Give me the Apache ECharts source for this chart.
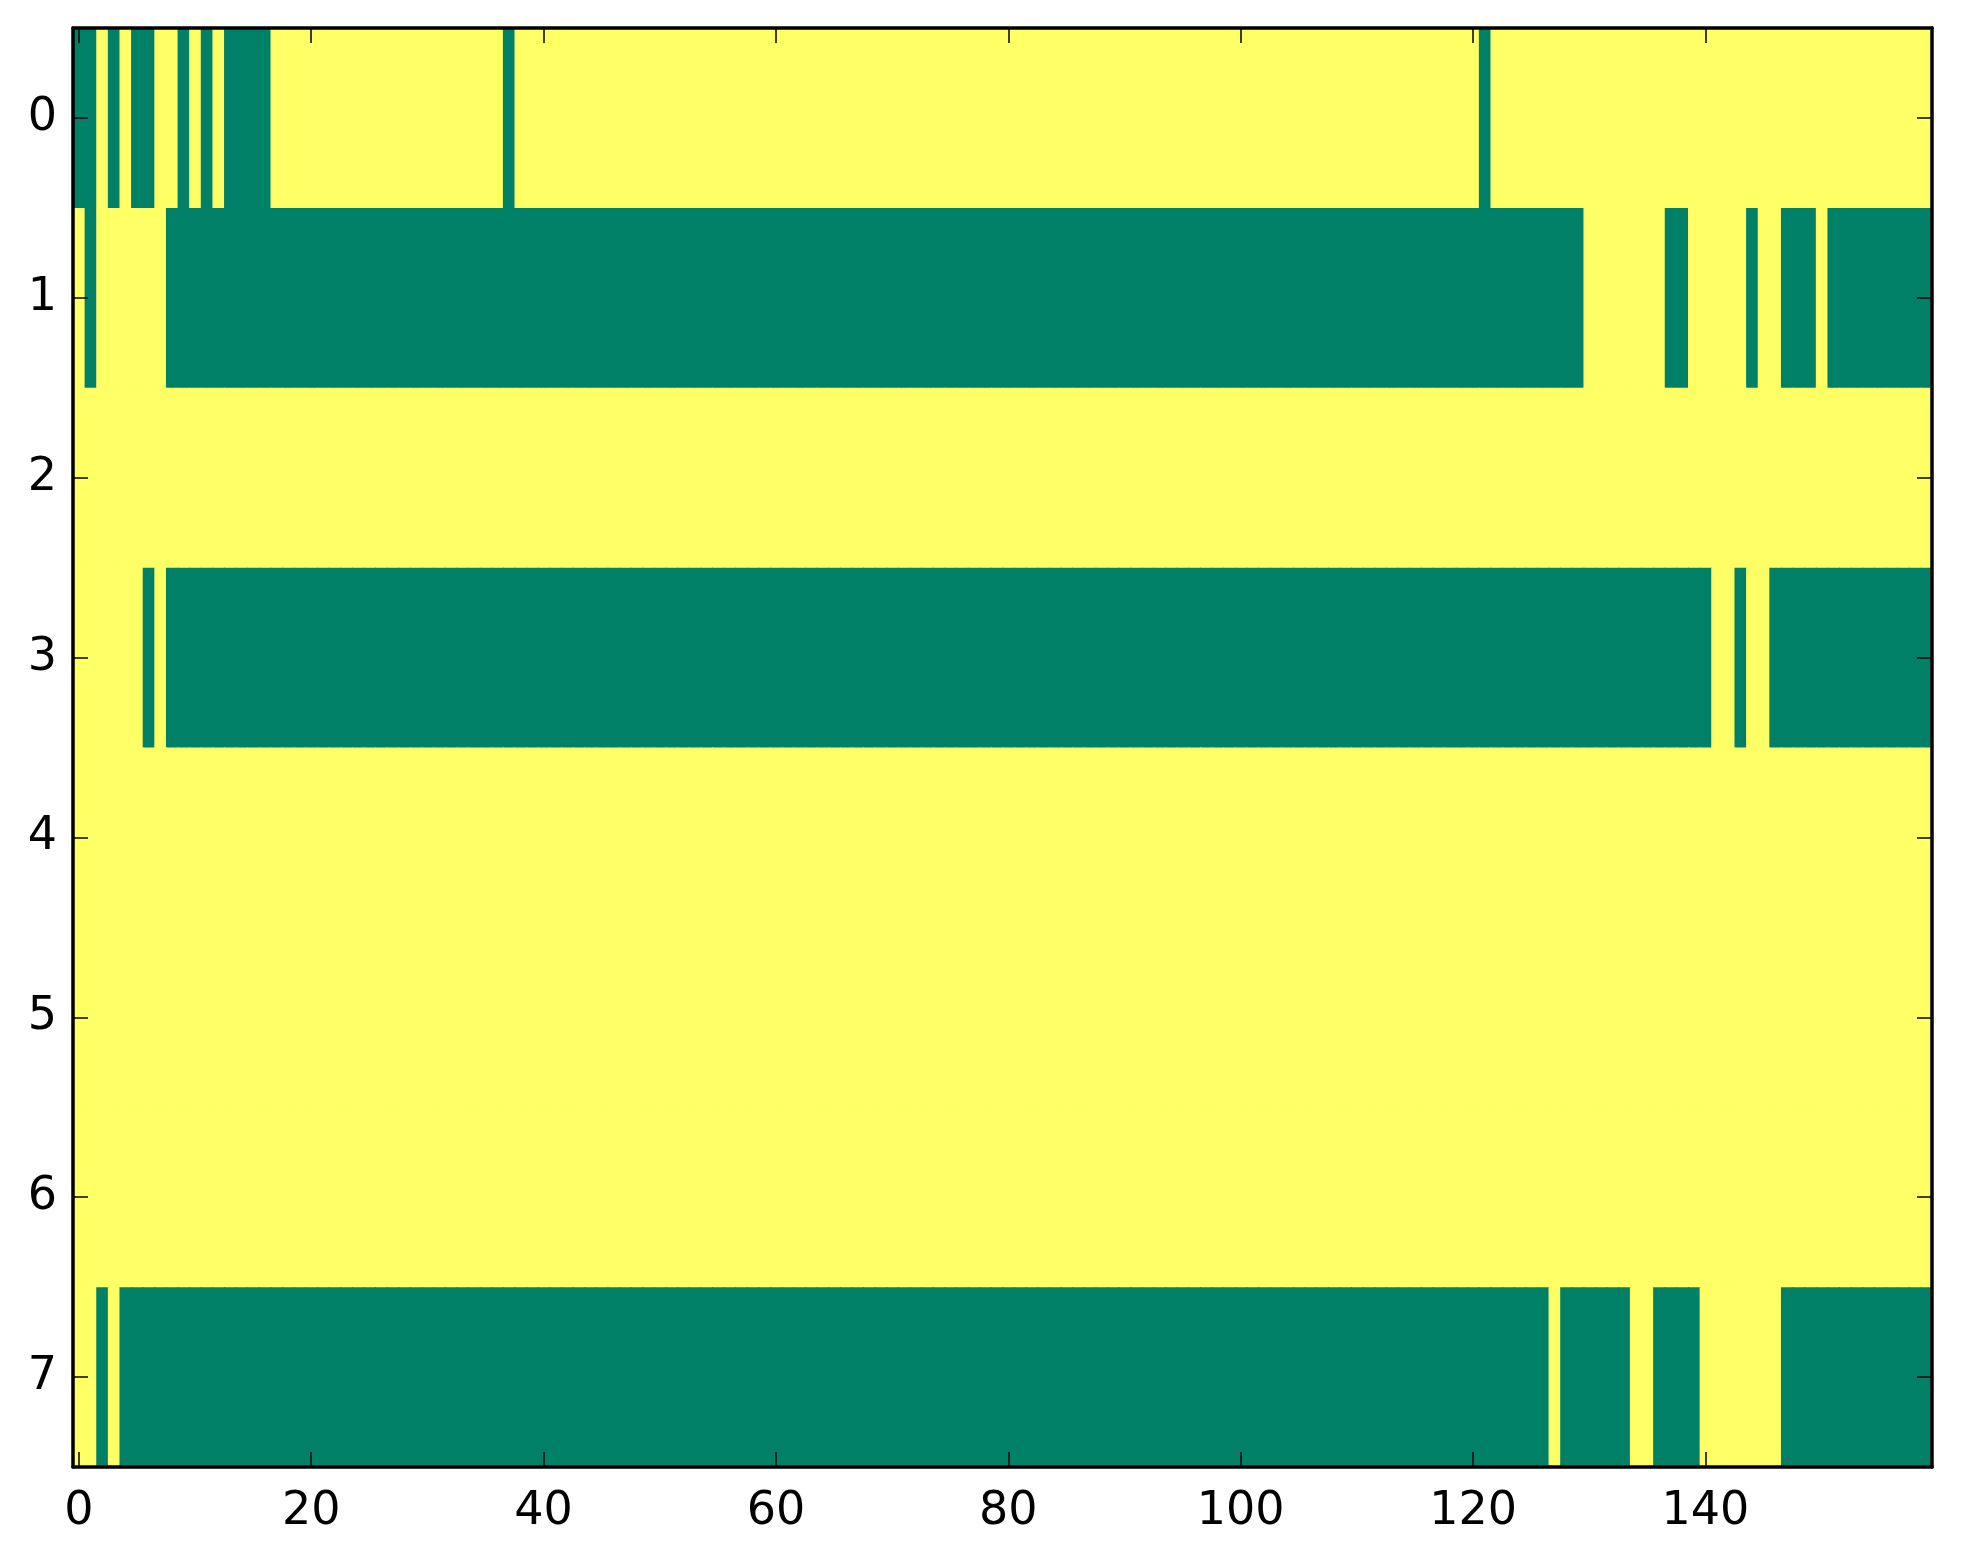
<!DOCTYPE html>
<html>
<head>
<meta charset="utf-8">
<script src="https://cdn.jsdelivr.net/npm/echarts@6/dist/echarts.min.js"></script>
<style>
    html, body { margin: 0; padding: 0; background: #ffffff; }
    #chart { width: 1963px; height: 1564px; }
</style>
</head>
<body>
<div id="chart"></div>
<script>
    // 每行 160 个格子，1 = 黄色，0 = 绿色（每 10 个一组，空格仅为方便阅读）
    const row0 = '0010100110 1010000111 1111111111 1111111011 1111111111 1111111111 1111111111 1111111111 1111111111 1111111111 1111111111 1111111111 1011111111 1111111111 1111111111 1111111111';
    const row1 = '1011111100 0000000000 0000000000 0000000000 0000000000 0000000000 0000000000 0000000000 0000000000 0000000000 0000000000 0000000000 0000000000 1111111001 1111011000 1000000000';
    const row2 = '1111111111 1111111111 1111111111 1111111111 1111111111 1111111111 1111111111 1111111111 1111111111 1111111111 1111111111 1111111111 1111111111 1111111111 1111111111 1111111111';
    const row3 = '1111110100 0000000000 0000000000 0000000000 0000000000 0000000000 0000000000 0000000000 0000000000 0000000000 0000000000 0000000000 0000000000 0000000000 0110110000 0000000000';
    const row4 = '1111111111 1111111111 1111111111 1111111111 1111111111 1111111111 1111111111 1111111111 1111111111 1111111111 1111111111 1111111111 1111111111 1111111111 1111111111 1111111111';
    const row5 = '1111111111 1111111111 1111111111 1111111111 1111111111 1111111111 1111111111 1111111111 1111111111 1111111111 1111111111 1111111111 1111111111 1111111111 1111111111 1111111111';
    const row6 = '1111111111 1111111111 1111111111 1111111111 1111111111 1111111111 1111111111 1111111111 1111111111 1111111111 1111111111 1111111111 1111111111 1111111111 1111111111 1111111111';
    const row7 = '1101000000 0000000000 0000000000 0000000000 0000000000 0000000000 0000000000 0000000000 0000000000 0000000000 0000000000 0000000000 0000000100 0000110000 1111111000 0000000000';
    const rows = [row0, row1, row2, row3, row4, row5, row6, row7];

    const xCategories = [];
    for (let i = 0; i < 160; i++) xCategories.push(String(i));
    const yCategories = ['0', '1', '2', '3', '4', '5', '6', '7'];
    const xTickStep = 20;

    (function(){
        const cells = [];
        rows.forEach(function(r, y) {
            r.replace(/\s+/g, '').split('').forEach(function(v, x) {
                cells.push([x, y, Number(v)]);
            });
        });

        const font = { color: '#000', fontSize: 46, fontFamily: 'DejaVu Sans' };
        const tickLine = { color: '#000', width: 1.5 };
        const spine = { show: true, onZero: false, lineStyle: { color: '#000', width: 3.5 } };
        const xEvery = function(i) { return i % xTickStep === 0; };

        // 格子稍微重叠一点，避免抗锯齿留下细缝
        function renderCell(params, api) {
            const c = api.coord([api.value(0), api.value(1)]);
            const s = api.size([1, 1]);
            return {
                type: 'rect',
                shape: { x: c[0] - s[0] / 2, y: c[1] - s[1] / 2, width: s[0] + 1, height: s[1] + 1 },
                style: { fill: api.visual('color') }
            };
        }

        const chart = echarts.init(document.getElementById('chart'));
        chart.setOption({
            animation: false,
            backgroundColor: '#ffffff',
            grid: { left: 73, right: 31, top: 28, bottom: 97 },
            xAxis: [{
                type: 'category', position: 'bottom', data: xCategories, z: 10,
                axisLine: spine,
                axisTick: { show: true, inside: true, length: 15, alignWithLabel: true, interval: xEvery, lineStyle: tickLine },
                axisLabel: Object.assign({ interval: xEvery, margin: 22 }, font),
                splitLine: { show: false }
            }, {
                type: 'category', position: 'top', data: xCategories, z: 10,
                axisLine: spine,
                axisTick: { show: true, inside: true, length: 15, alignWithLabel: true, interval: xEvery, lineStyle: tickLine },
                axisLabel: { show: false },
                splitLine: { show: false }
            }],
            yAxis: [{
                type: 'category', position: 'left', data: yCategories, inverse: true, z: 10,
                axisLine: spine,
                axisTick: { show: true, inside: true, length: 15, alignWithLabel: true, interval: 0, lineStyle: tickLine },
                axisLabel: Object.assign({ interval: 0, margin: 16 }, font),
                splitLine: { show: false }
            }, {
                type: 'category', position: 'right', data: yCategories, inverse: true, z: 10,
                axisLine: spine,
                axisTick: { show: true, inside: true, length: 15, alignWithLabel: true, interval: 0, lineStyle: tickLine },
                axisLabel: { show: false },
                splitLine: { show: false }
            }],
            visualMap: {
                type: 'piecewise', show: false, dimension: 2,
                pieces: [
                    { value: 0, color: '#008066' },
                    { value: 1, color: '#ffff66' }
                ]
            },
            series: [{
                type: 'custom',
                xAxisIndex: 0, yAxisIndex: 0,
                renderItem: renderCell,
                encode: { x: 0, y: 1 },
                data: cells,
                clip: true,
                z: 1
            }]
        });
    })();
</script>
</body>
</html>
